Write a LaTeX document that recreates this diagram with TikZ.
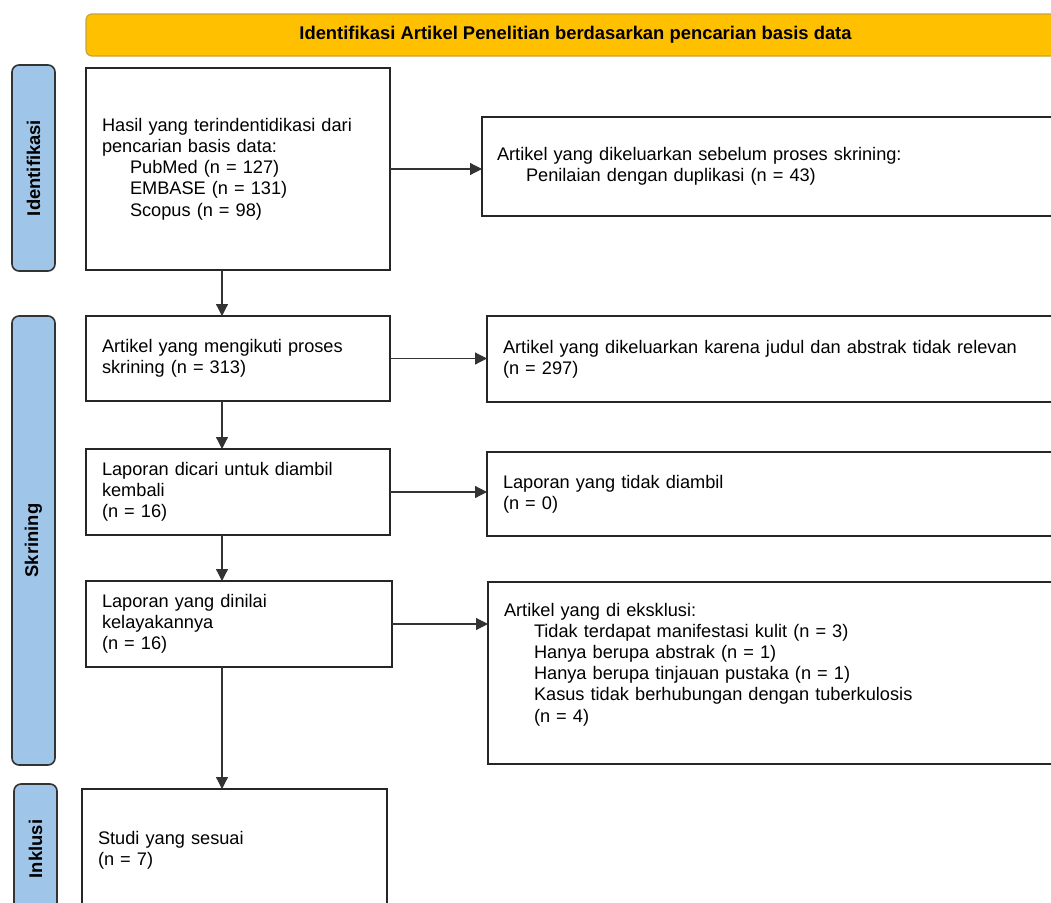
\documentclass[tikz,border=0pt]{standalone}
\usepackage{fontspec}
\setmainfont{Liberation Sans}
\usetikzlibrary{arrows.meta}
\definecolor{bannergold}{HTML}{FFC000}
\definecolor{bannerline}{HTML}{C9A23A}
\definecolor{phaseblue}{HTML}{9FC5E8}

\begin{document}
\begin{tikzpicture}[x=1pt, y=-1pt,
    every node/.style = {font=\fontsize{18.2}{21.2}\selectfont, outer sep=0pt},
    box/.style = {draw=black!85, line width=1.6pt, anchor=north west,
      align=left, inner xsep=16pt, inner ysep=0pt},
    phase/.style = {draw=black!80, line width=1.6pt, rounded corners=7pt,
      fill=phaseblue, rotate=90, inner sep=0pt, minimum height=43pt,
      font=\fontsize{18.4}{21.2}\selectfont\bfseries},
    banner/.style = {draw=bannerline, line width=1.2pt, rounded corners=6pt,
      fill=bannergold, minimum width=979pt, minimum height=42pt,
      font=\fontsize{18.4}{21.2}\selectfont\bfseries},
    arr/.style = {line width=1.2pt, draw=black!80,
      -{Triangle[length=12pt,width=12pt]}}]
    \useasboundingbox (0,0) rectangle (1051,902);
    \clip (0,0) rectangle (1051,902);

    \node[banner] (head) at (575.5,35)
      {Identifikasi Artikel Penelitian berdasarkan pencarian basis data};

    \node[phase, minimum width=206pt] (identifikasi) at (33.5,168) {Identifikasi};
    \node[phase, minimum width=449pt] (skrining) at (33.5,540.5) {Skrining};
    \node[phase, minimum width=130pt] (inklusi) at (35.5,849) {Inklusi};

    % kolom kiri
    \node[box, minimum width=304pt, text width=272pt, minimum height=202pt] (hasil) at (86,68)
      {Hasil yang terindentidikasi dari\\
       pencarian basis data:\\
       \hspace*{28pt}PubMed (n = 127)\\
       \hspace*{28pt}EMBASE (n = 131)\\
       \hspace*{28pt}Scopus (n = 98)};
    \node[box, minimum width=304pt, text width=272pt, minimum height=85pt] (skrin) at (86,316)
      {Artikel yang mengikuti proses\\ skrining (n = 313)};
    \node[box, minimum width=304pt, text width=272pt, minimum height=86pt] (dicari) at (86,449)
      {Laporan dicari untuk diambil\\ kembali\\ (n = 16)};
    \node[box, minimum width=306pt, text width=274pt, minimum height=86pt] (dinilai) at (86,581)
      {Laporan yang dinilai\\ kelayakannya\\ (n = 16)};
    \node[box, minimum width=305pt, text width=273pt, minimum height=123pt] (studi) at (82,789)
      {Studi yang sesuai\\ (n = 7)};

    % kolom kanan
    \node[box, inner xsep=15pt, minimum width=600pt, text width=570pt, minimum height=99pt] (duplikasi) at (482,117)
      {Artikel yang dikeluarkan sebelum proses skrining:\\
       \hspace*{29pt}Penilaian dengan duplikasi (n = 43)};
    \node[box, minimum width=600pt, text width=568pt, minimum height=86pt] (relevan) at (487,316)
      {Artikel yang dikeluarkan karena judul dan abstrak tidak relevan\\ (n = 297)};
    \node[box, minimum width=600pt, text width=568pt, minimum height=84pt] (tidak) at (487,452)
      {Laporan yang tidak diambil\\ (n = 0)};
    \node[box, minimum width=600pt, text width=568pt, minimum height=182pt] (eksklusi) at (488,582)
      {Artikel yang di eksklusi:\\
       \hspace*{30pt}Tidak terdapat manifestasi kulit (n = 3)\\
       \hspace*{30pt}Hanya berupa abstrak (n = 1)\\
       \hspace*{30pt}Hanya berupa tinjauan pustaka (n = 1)\\
       \hspace*{30pt}Kasus tidak berhubungan dengan tuberkulosis\\
       \hspace*{30pt}(n = 4)\\ \mbox{}};

    \coordinate (spine) at (222,0);
    \draw[arr] (hasil.south -| spine) -- (skrin.north -| spine);
    \draw[arr] (skrin.south -| spine) -- (dicari.north -| spine);
    \draw[arr] (dicari.south -| spine) -- (dinilai.north -| spine);
    \draw[arr] (dinilai.south -| spine) -- (studi.north -| spine);

    \draw[arr] (hasil.east) -- (hasil.east -| duplikasi.west);
    \draw[arr] (skrin.east) -- (skrin.east -| relevan.west);
    \draw[arr] (dicari.east) -- (dicari.east -| tidak.west);
    \draw[arr] (dinilai.east) -- (dinilai.east -| eksklusi.west);
\end{tikzpicture}
\end{document}
